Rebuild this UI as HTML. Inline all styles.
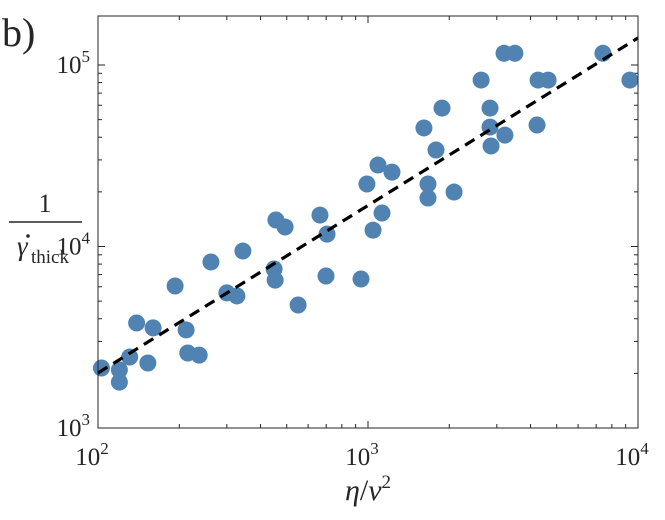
<!DOCTYPE html>
<html><head><meta charset="utf-8"><style>
body{margin:0;background:#fff}
svg text{font-family:"Liberation Serif","DejaVu Serif",serif;fill:#262626}
</style></head><body>
<svg id="chart" width="665" height="515">
<text x="2" y="46" font-size="40">b)</text>
<g id="ticks"></g>
<g id="marks"></g>
<rect x="98" y="16" width="540" height="412" fill="none" stroke="#262626" stroke-width="1"/>
<g>
<text x="45" y="212" font-size="26" text-anchor="middle">1</text>
<line x1="9" y1="222" x2="82" y2="222" stroke="#262626" stroke-width="1.5"/>
<text x="17" y="255" font-size="27" font-style="italic">γ</text>
<circle cx="28" cy="236" r="1.8" fill="#262626"/>
<text x="31" y="263" font-size="19">thick</text>
</g>
<text x="368" y="500" font-size="30" text-anchor="middle"><tspan font-style="italic">η</tspan>/<tspan font-style="italic">v</tspan><tspan font-size="19" dy="-12">2</tspan></text>
</svg>
<script>
const xs=[103,120,120,131,139,153,160,193,212,215,237,262,300,327,344,449,453,456,493,551,664,699,705,942,991,1044,1089,1127,1227,1611,1668,1668,1880,1786,2083,2624,2831,2831,2856,3214,3190,3500,4227,4266,4645,7413,9333];
const ys=[2140,2090,1790,2460,3790,2280,3560,6060,3470,2590,2520,8220,5550,5340,9440,7520,6530,14000,12800,4760,14900,6880,11700,6620,22100,12300,28100,15300,25700,45000,22100,18500,57900,34000,19950,82600,57900,45500,35800,41100,116000,116000,46700,82600,82600,116000,82600];
const fitX=[100,10000];
const fitY=[2010,141000];
const xTickExp=[2,3,4];
const yTickExp=[3,4,5];
const X0=98,X1=638,Y0=428,Y1=16;
const sx=v=>X0+(Math.log10(v)-2)*270;
const sy=v=>Y0-(Math.log10(v)-3)*181.5;
const NS="http://www.w3.org/2000/svg";
function mk(t,a,p){const e=document.createElementNS(NS,t);for(const k in a)e.setAttribute(k,a[k]);p.appendChild(e);return e;}
const tg=document.getElementById('ticks'),mg=document.getElementById('marks');
for(let d=2;d<4;d++)for(let m=1;m<10;m++){const x=sx(m*Math.pow(10,d));const L=m==1?7:4;
mk('line',{x1:x,y1:Y0,x2:x,y2:Y0-L,stroke:'#262626'},tg);mk('line',{x1:x,y1:Y1,x2:x,y2:Y1+L,stroke:'#262626'},tg);}
for(let d=3;d<6;d++)for(let m=1;m<10;m++){const v=m*Math.pow(10,d);const y=sy(v);if(y<Y1)continue;const L=m==1?7:4;
mk('line',{x1:X0,y1:y,x2:X0+L,y2:y,stroke:'#262626'},tg);mk('line',{x1:X1,y1:y,x2:X1-L,y2:y,stroke:'#262626'},tg);}
xTickExp.forEach(e=>{const t=mk('text',{x:sx(Math.pow(10,e))-6,y:465,'font-size':25,'text-anchor':'middle'},tg);

t.innerHTML='10<tspan font-size="17" dy="-11">'+e+'</tspan>';});
yTickExp.forEach(e=>{const t=mk('text',{x:90,y:sy(Math.pow(10,e))+8,'font-size':25,'text-anchor':'end'},tg);

t.innerHTML='10<tspan font-size="17" dy="-11">'+e+'</tspan>';});
xs.forEach((v,i)=>{const c=mk('circle',{cx:sx(v),cy:sy(ys[i]),r:8.5,fill:'#5083b2'},mg);
});
const fl=mk('line',{x1:sx(fitX[0]),y1:sy(fitY[0]),x2:sx(fitX[1]),y2:sy(fitY[1]),stroke:'#000','stroke-width':3.2,'stroke-dasharray':'11 7'},mg);


</script>
</body></html>
